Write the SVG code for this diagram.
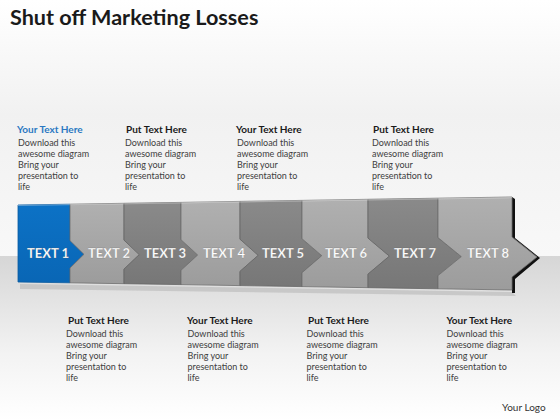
<svg xmlns="http://www.w3.org/2000/svg" width="560" height="420" viewBox="0 0 560 420">
  <defs>
    <linearGradient id="sky" x1="0" y1="0" x2="0" y2="1">
      <stop offset="0" stop-color="#ffffff"/>
      <stop offset="0.45" stop-color="#f1f1f1"/>
      <stop offset="1" stop-color="#f8f8f8"/>
    </linearGradient>
    <linearGradient id="floor" x1="0" y1="0" x2="0" y2="1">
      <stop offset="0" stop-color="#d6d6d6"/>
      <stop offset="0.6" stop-color="#f3f3f3"/>
      <stop offset="1" stop-color="#ffffff"/>
    </linearGradient>
    <linearGradient id="gLight" x1="0" y1="0" x2="0" y2="1">
      <stop offset="0" stop-color="#b0b0b0"/>
      <stop offset="0.5" stop-color="#a6a6a6"/>
      <stop offset="1" stop-color="#9c9c9c"/>
    </linearGradient>
    <linearGradient id="gDark" x1="0" y1="0" x2="0" y2="1">
      <stop offset="0" stop-color="#8a8a8a"/>
      <stop offset="0.5" stop-color="#808080"/>
      <stop offset="1" stop-color="#777777"/>
    </linearGradient>
    <linearGradient id="gBlue" x1="0" y1="0" x2="0" y2="1">
      <stop offset="0" stop-color="#0c72c6"/>
      <stop offset="1" stop-color="#0966b5"/>
    </linearGradient>
  </defs>
  <style>
    .title { font-family: Lato, "Liberation Sans", sans-serif; font-weight: bold; font-size: 21.6px; fill: #1a1a1a; }
    .head { font-family: Lato, "Liberation Sans", sans-serif; font-weight: bold; font-size: 10px; fill: #1a1a1a; }
    .headblue { fill: #2a78c2; }
    .body { font-family: Lato, "Liberation Sans", sans-serif; font-size: 9px; fill: #404040; }
    .lbl { font-family: Lato, "Liberation Sans", sans-serif; font-weight: bold; font-size: 13px; fill: #ffffff; text-anchor: middle; stroke: #555555; stroke-width: 0.3; stroke-opacity: 0.5; }
    .light { fill: url(#gLight); stroke: #6e6e6e; stroke-width: 0.8; }
    .dark { fill: url(#gDark); stroke: #666666; stroke-width: 0.8; }
    .blue { fill: url(#gBlue); stroke: #0a5a9e; stroke-width: 0.8; }
    .logo { font-family: Lato, "Liberation Sans", sans-serif; font-size: 10px; fill: #333333; }
  </style>

  <!-- background -->
  <rect x="0" y="0" width="560" height="256" fill="url(#sky)"/>
  <rect x="0" y="256" width="560" height="164" fill="url(#floor)"/>

  <text class="title" x="10" y="25">Shut off Marketing Losses</text>

  <!-- shadow of band -->
  <polygon points="20,284 512,292 516,296 20,289" fill="#9a9a9a" opacity="0.35"/>
  <polygon points="515,199 515,238 540,258 515,279 515,293 512,293 512,197" fill="#111111"/>

  <g id="node1">
    <polygon class="blue" points="18,205 70,204.2 70,240.6 84,254.3 70,268 70,282.8 18,282"/>
    <text class="lbl" x="48" y="258">TEXT 1</text>
  </g>
  <g id="node2">
    <polygon class="light" points="70,204.2 124,203.3 124,240.1 139.3,254.6 124,269.1 124,283.7 70,282.8 70,268 84,254.3 70,240.6"/>
    <text class="lbl" x="109" y="258">TEXT 2</text>
  </g>
  <g id="node3">
    <polygon class="dark" points="124,203.3 181,202.4 181,239.7 197.7,255 181,270.3 181,284.6 124,283.7 124,269.1 139.3,254.6 124,240.1"/>
    <text class="lbl" x="165" y="258">TEXT 3</text>
  </g>
  <g id="node4">
    <polygon class="light" points="181,202.4 240,201.4 240,239.2 258.2,255.3 240,271.4 240,285.6 181,284.6 181,270.3 197.7,255 181,239.7"/>
    <text class="lbl" x="224" y="258">TEXT 4</text>
  </g>
  <g id="node5">
    <polygon class="dark" points="240,201.4 302,200.4 302,238.7 321.8,255.7 302,272.7 302,286.6 240,285.6 240,271.4 258.2,255.3 240,239.2"/>
    <text class="lbl" x="283" y="258">TEXT 5</text>
  </g>
  <g id="node6">
    <polygon class="light" points="302,200.4 368,199.3 368,238.1 389.4,256.1 368,274.1 368,287.7 302,286.6 302,272.7 321.8,255.7 302,238.7"/>
    <text class="lbl" x="346" y="258">TEXT 6</text>
  </g>
  <g id="node7">
    <polygon class="dark" points="368,199.3 438,198.2 438,237.6 461.3,256.6 438,275.6 438,288.8 368,287.7 368,274.1 389.4,256.1 368,238.1"/>
    <text class="lbl" x="415" y="258">TEXT 7</text>
  </g>
  <g id="node8">
    <polygon class="light" points="438,198.2 512,197 512,237 537,257 512,277 512,290 438,288.8 438,275.6 461.3,256.6 438,237.6"/>
    <text class="lbl" x="488" y="258">TEXT 8</text>
  </g>

  <!-- top highlight -->
  <polyline points="18,205.5 512,197.5" fill="none" stroke="#ffffff" stroke-opacity="0.35" stroke-width="1.2"/>

  <g id="connectors"></g>

  <!-- top descriptions -->
  <g id="desc1">
    <text class="head headblue" x="17" y="133">Your Text Here</text>
    <text class="body" x="18" y="145.7">Download this</text>
    <text class="body" x="18" y="156.8">awesome diagram</text>
    <text class="body" x="18" y="167.9">Bring your</text>
    <text class="body" x="18" y="179">presentation to</text>
    <text class="body" x="18" y="190.1">life</text>
  </g>
  <g id="desc2">
    <text class="head" x="126" y="133">Put Text Here</text>
    <text class="body" x="125" y="145.7">Download this</text>
    <text class="body" x="125" y="156.8">awesome diagram</text>
    <text class="body" x="125" y="167.9">Bring your</text>
    <text class="body" x="125" y="179">presentation to</text>
    <text class="body" x="125" y="190.1">life</text>
  </g>
  <g id="desc3">
    <text class="head" x="236" y="133">Your Text Here</text>
    <text class="body" x="237" y="145.7">Download this</text>
    <text class="body" x="237" y="156.8">awesome diagram</text>
    <text class="body" x="237" y="167.9">Bring your</text>
    <text class="body" x="237" y="179">presentation to</text>
    <text class="body" x="237" y="190.1">life</text>
  </g>
  <g id="desc4">
    <text class="head" x="373" y="133">Put Text Here</text>
    <text class="body" x="372" y="145.7">Download this</text>
    <text class="body" x="372" y="156.8">awesome diagram</text>
    <text class="body" x="372" y="167.9">Bring your</text>
    <text class="body" x="372" y="179">presentation to</text>
    <text class="body" x="372" y="190.1">life</text>
  </g>

  <!-- bottom descriptions -->
  <g id="desc5">
    <text class="head" x="68" y="324">Put Text Here</text>
    <text class="body" x="66" y="336.7">Download this</text>
    <text class="body" x="66" y="347.7">awesome diagram</text>
    <text class="body" x="66" y="358.7">Bring your</text>
    <text class="body" x="66" y="369.7">presentation to</text>
    <text class="body" x="66" y="380.7">life</text>
  </g>
  <g id="desc6">
    <text class="head" x="187" y="324">Your Text Here</text>
    <text class="body" x="187.5" y="336.7">Download this</text>
    <text class="body" x="187.5" y="347.7">awesome diagram</text>
    <text class="body" x="187.5" y="358.7">Bring your</text>
    <text class="body" x="187.5" y="369.7">presentation to</text>
    <text class="body" x="187.5" y="380.7">life</text>
  </g>
  <g id="desc7">
    <text class="head" x="308" y="324">Put Text Here</text>
    <text class="body" x="306.5" y="336.7">Download this</text>
    <text class="body" x="306.5" y="347.7">awesome diagram</text>
    <text class="body" x="306.5" y="358.7">Bring your</text>
    <text class="body" x="306.5" y="369.7">presentation to</text>
    <text class="body" x="306.5" y="380.7">life</text>
  </g>
  <g id="desc8">
    <text class="head" x="446.5" y="324">Your Text Here</text>
    <text class="body" x="446.5" y="336.7">Download this</text>
    <text class="body" x="446.5" y="347.7">awesome diagram</text>
    <text class="body" x="446.5" y="358.7">Bring your</text>
    <text class="body" x="446.5" y="369.7">presentation to</text>
    <text class="body" x="446.5" y="380.7">life</text>
  </g>

  <text class="logo" x="502" y="411">Your Logo</text>
</svg>
